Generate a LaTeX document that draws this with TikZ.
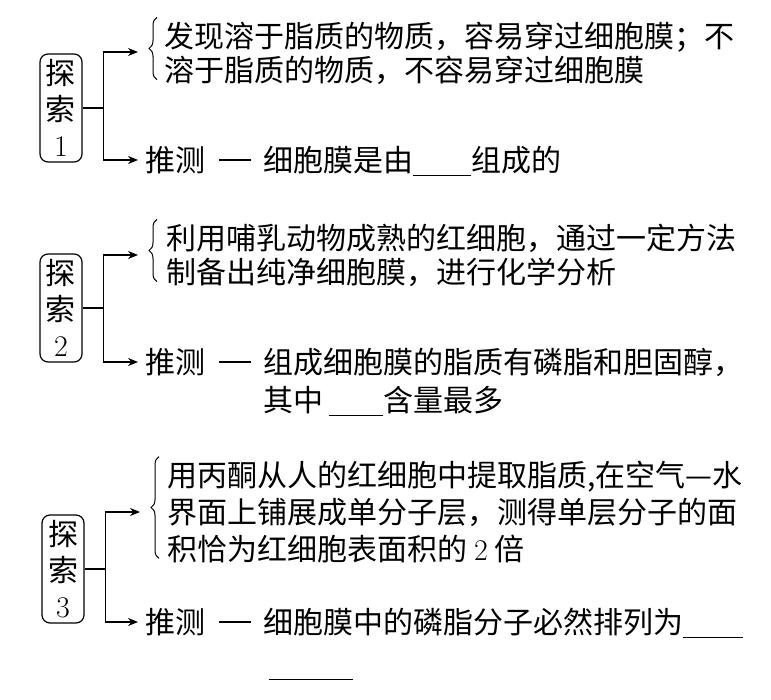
\documentclass[tikz,border=0pt]{standalone}
\usepackage{fontspec}
\usepackage{tikz}
\usetikzlibrary{arrows.meta,positioning,calc,decorations.pathreplacing}
\newfontfamily\cjk{Noto Sans CJK SC}
\newcommand{\blank}[1]{\rule[-2.5pt]{#1}{0.6pt}}
\newcommand{\dashsep}{\hspace{6.5pt}\rule[0.36em]{16pt}{0.6pt}\hspace{6pt}}
\newcommand{\digit}[1]{{\rmfamily #1}}

\begin{document}
\begin{tikzpicture}[
    x=0.5pt, y=-0.5pt,
    font=\cjk\fontsize{15pt}{17pt}\selectfont,
    probe/.style={rectangle, rounded corners=4pt, draw, line width=0.6pt,
        align=center, minimum width=21pt, minimum height=54pt,
        inner xsep=2pt, inner ysep=1pt, font=\cjk\fontsize{15pt}{18pt}\selectfont},
    finding/.style={align=left, inner sep=0pt, anchor=west},
    guess/.style={inner sep=0pt, anchor=west},
    claim/.style={inner sep=0pt, anchor=base west, font=\cjk\fontsize{15pt}{19pt}\selectfont},
    arrow/.style={-{Stealth[length=5pt, width=4pt]}, line width=0.6pt},
    stub/.style={line width=0.6pt},
    curly/.style={decorate, decoration={brace, amplitude=4pt}, line width=0.5pt}
]
\useasboundingbox (0,0) rectangle (771,700);

\node[probe] (p1) at (61,108) {探\\索\\\digit{1}};
\node[probe] (p2) at (61,308) {探\\索\\\digit{2}};
\node[probe] (p3) at (63,569) {探\\索\\\digit{3}};

\node[finding] (f1) at (164,53) {发现溶于脂质的物质，容易穿过细胞膜；不\\溶于脂质的物质，不容易穿过细胞膜};
\node[finding] (f2) at (166,255) {利用哺乳动物成熟的红细胞，通过一定方法\\制备出纯净细胞膜，进行化学分析};
\node[finding, font=\cjk\fontsize{15pt}{18.5pt}\selectfont] (f3) at (167,512)
    {用丙酮从人的红细胞中提取脂质,在空气—水\\界面上铺展成单分子层，测得单层分子的面\\积恰为红细胞表面积的 \digit{2} 倍};

\node[guess] (g1) at (145,160) {推测};
\node[claim] (c1) at (g1.base east) {\dashsep 细胞膜是由\blank{29pt}组成的};
\node[guess] (g2) at (145,362) {推测};
\node[claim] (c2) at (g2.base east) {\dashsep\begin{tabular}[t]{@{}l@{}}组成细胞膜的脂质有磷脂和胆固醇，\\
    其中\hspace{3pt}\blank{27pt}含量最多\end{tabular}};
\node[guess] (g3) at (145,622) {推测};
\node[claim] (c3) at (g3.base east) {\dashsep\begin{tabular}[t]{@{}l@{}}细胞膜中的磷脂分子必然排列为\blank{30pt}\\[2pt]
    \hspace{3pt}\blank{42pt}\end{tabular}};

\draw[stub] (p1.east) -- ++(21,0) coordinate (k1);
\draw[arrow] (k1) |- ($(f1.west)+(-26,-1)$);
\draw[arrow] (k1) |- ($(g1.west)+(-7,0)$);
\draw[curly] ($(f1.south west)+(-7,-5)$) -- ($(f1.north west)+(-7,-4)$);

\draw[stub] (p2.east) -- ++(21,0) coordinate (k2);
\draw[arrow] (k2) |- ($(f2.west)+(-28,0)$);
\draw[arrow] (k2) |- ($(g2.west)+(-7,0)$);
\draw[curly] ($(f2.south west)+(-9,-5)$) -- ($(f2.north west)+(-9,-4)$);

\draw[stub] (p3.east) -- ++(21,0) coordinate (k3);
\draw[arrow] (k3) |- ($(f3.west)+(-27,0)$);
\draw[arrow] (k3) |- ($(g3.west)+(-7,0)$);
\draw[curly] ($(f3.south west)+(-8,-5)$) -- ($(f3.north west)+(-8,-4)$);

\end{tikzpicture}
\end{document}
